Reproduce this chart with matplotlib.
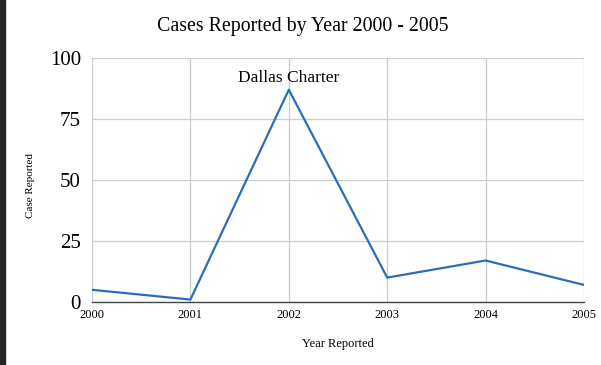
import matplotlib
matplotlib.use("Agg")
import matplotlib.pyplot as plt
from matplotlib.patches import Rectangle

years = [2000, 2001, 2002, 2003, 2004, 2005]
cases = [5, 1, 87, 10, 17, 7]
yticks = [0, 25, 50, 75, 100]
annot_text = "Dallas Charter"
annot_year = 2002
annot_val = 87

plt.rcParams['font.family'] = ['Liberation Serif', 'DejaVu Serif']

fig = plt.figure(figsize=(6.01, 3.65), dpi=100)
fig.patches.append(Rectangle((0, 0), 5/601, 1, transform=fig.transFigure,
                             color='#262626', zorder=0))
ax = fig.add_axes([92/601, 1 - 302/365, (584-92)/601, (302-58)/365])

ax.plot(years, cases, color='#2a6ebb', linewidth=1.6, zorder=3)
ax.set_xlim(2000, 2005)
ax.set_ylim(0, 100)
ax.set_xticks(years)
ax.set_yticks(yticks)
ax.grid(True, color='#cccccc', linewidth=0.9)
ax.set_axisbelow(True)
for s in ['top', 'right', 'left']:
    ax.spines[s].set_visible(False)
ax.spines['bottom'].set_color('#444444')
ax.spines['bottom'].set_linewidth(1.0)
ax.tick_params(axis='both', length=0)
ax.tick_params(axis='y', labelsize=15, pad=8)
ax.tick_params(axis='x', labelsize=9, pad=5)

fig.text(303/601, 1 - 26/365, "Cases Reported by Year 2000 - 2005",
         fontsize=14.3, ha='center', va='center')
ax.set_xlabel("Year Reported", fontsize=9)
ax.xaxis.set_label_coords((338-92)/(584-92), (302-344)/(302-58))
ax.set_ylabel("Case Reported", fontsize=8)
ax.yaxis.set_label_coords((30-92)/(584-92), (302-185)/(302-58))
ax.xaxis.label.set_va('center')
ax.yaxis.label.set_va('center')

ax.annotate(annot_text, xy=(annot_year, annot_val), xytext=(0, 3),
            textcoords='offset points', ha='center', va='bottom', fontsize=12.5)

fig.savefig("out.png", dpi=100)
